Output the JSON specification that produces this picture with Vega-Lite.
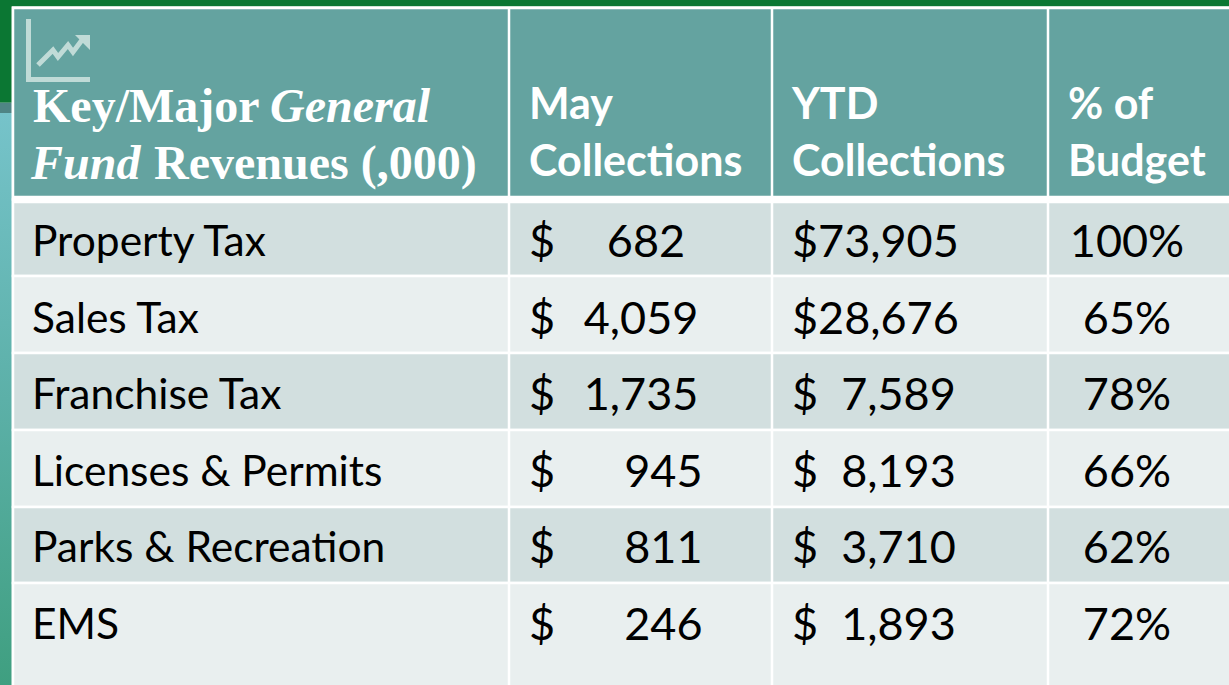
{"$schema":"https://vega.github.io/schema/vega-lite/v6.json","width":1229,"height":685,"padding":0,"autosize":"none","background":"#ffffff","view":{"stroke":null},
"datasets":{
"decor":[{"panel":"top","l":0,"r":100,"t":0,"b":0.9},{"panel":"top","l":0,"r":0.95,"t":0,"b":15},{"panel":"grey","l":0,"r":0.95,"t":15,"b":16.5}],
"sidebar":[{"panel":"side","l":0,"r":0.95,"t":16.5,"b":100}],
"bands":[{"band":"header","start":0,"end":1},{"band":"dark","start":1,"end":2},{"band":"light","start":2,"end":3},{"band":"dark","start":3,"end":4},{"band":"light","start":4,"end":5},{"band":"dark","start":5,"end":6},{"band":"light","start":6,"end":7}],
"cols":[{"col":1},{"col":2},{"col":3}],
"rows":[{"category":"Property Tax","may":"$\u00a0\u00a0\u00a0\u00a0\u2009682","ytd":"$73,905","pct":"100%"},{"category":"Sales Tax","may":"$\u00a0\u00a0\u20094,059","ytd":"$28,676","pct":"65%"},{"category":"Franchise Tax","may":"$\u00a0\u00a0\u20091,735","ytd":"$\u00a0\u00a07,589","pct":"78%"},{"category":"Licenses & Permits","may":"$\u00a0\u00a0\u00a0\u00a0\u00a0\u00a0945","ytd":"$\u00a0\u00a08,193","pct":"66%"},{"category":"Parks & Recreation","may":"$\u00a0\u00a0\u00a0\u00a0\u00a0\u00a0811","ytd":"$\u00a0\u00a03,710","pct":"62%"},{"category":"EMS","may":"$\u00a0\u00a0\u00a0\u00a0\u00a0\u00a0246","ytd":"$\u00a0\u00a01,893","pct":"72%"}],
"headers":[{"col":1,"line":"a","text":"May"},{"col":1,"line":"b","text":"Collections"},{"col":2,"line":"a","text":"YTD"},{"col":2,"line":"b","text":"Collections"},{"col":3,"line":"a","text":"% of"},{"col":3,"line":"b","text":"Budget"}],
"icon":[{"part":"axis","o":0,"x":0.5,"y":0},{"part":"axis","o":1,"x":0.5,"y":60.5},{"part":"axis","o":2,"x":62,"y":60.5},{"part":"trend","o":0,"x":10,"y":46},{"part":"trend","o":1,"x":25,"y":31},{"part":"trend","o":2,"x":30,"y":38},{"part":"trend","o":3,"x":40,"y":26},{"part":"trend","o":4,"x":45,"y":33},{"part":"trend","o":5,"x":54,"y":21}],
"arrow":[{"x":47,"top":16,"bottom":16},{"x":62,"top":16,"bottom":31}]
},
"resolve":{"scale":{"x":"independent","y":"independent","color":"independent"}},
"layer":[
{"data":{"name":"decor"},"mark":{"type":"rect"},"encoding":{
"x":{"field":"l","type":"quantitative","axis":null,"scale":{"domain":[0,100],"range":[0,1229]}},"x2":{"field":"r"},
"y":{"field":"t","type":"quantitative","axis":null,"scale":{"domain":[0,100],"range":[0,685]}},"y2":{"field":"b"},
"color":{"field":"panel","type":"nominal","legend":null,"scale":{"domain":["top","grey"],"range":["#0b7733","#4f8585"]}}}},
{"data":{"name":"sidebar"},"mark":{"type":"rect","color":{"x1":0,"y1":0,"x2":0,"y2":1,"gradient":"linear","stops":[{"offset":0,"color":"#76c3ca"},{"offset":0.5,"color":"#5cb0a8"},{"offset":1,"color":"#3f9f80"}]}},"encoding":{
"x":{"field":"l","type":"quantitative","axis":null,"scale":{"domain":[0,100],"range":[0,1229]}},"x2":{"field":"r"},
"y":{"field":"t","type":"quantitative","axis":null,"scale":{"domain":[0,100],"range":[0,685]}},"y2":{"field":"b"}}},
{"data":{"name":"bands"},"mark":{"type":"rect","stroke":"#ffffff","strokeWidth":2.5},"encoding":{
"x":{"datum":0,"type":"quantitative","axis":null,"scale":{"domain":[0,1,2,3,4],"range":[13,509,772,1048,1235]}},"x2":{"datum":4},
"y":{"field":"start","type":"quantitative","axis":null,"scale":{"domain":[0,1,2,3,4,5,6,7],"range":[8,199.5,276,353,430,507,583,692]}},"y2":{"field":"end"},
"color":{"field":"band","type":"nominal","legend":null,"scale":{"domain":["header","dark","light"],"range":["#64a3a0","#d2dfdf","#e9efef"]}}}},
{"data":{"values":[{"line":"header rule"}]},"mark":{"type":"rule","color":"#ffffff","strokeWidth":7.5},"encoding":{
"x":{"datum":0,"type":"quantitative","axis":null,"scale":{"domain":[0,1,2,3,4],"range":[13,509,772,1048,1235]}},"x2":{"datum":4},
"y":{"datum":1,"type":"quantitative","axis":null,"scale":{"domain":[0,1,2,3,4,5,6,7],"range":[8,199.5,276,353,430,507,583,692]}}}},
{"data":{"name":"cols"},"mark":{"type":"rule","color":"#ffffff","strokeWidth":2.5},"encoding":{
"x":{"field":"col","type":"quantitative","axis":null,"scale":{"domain":[0,1,2,3,4],"range":[13,509,772,1048,1235]}},
"y":{"datum":0,"type":"quantitative","axis":null,"scale":{"domain":[0,1,2,3,4,5,6,7],"range":[8,199.5,276,353,430,507,583,692]}},"y2":{"datum":7}}},
{"data":{"name":"icon"},"mark":{"type":"line","color":"#c0dbd7","strokeWidth":5,"strokeJoin":"miter","clip":false},"encoding":{
"x":{"field":"x","type":"quantitative","axis":null,"scale":{"domain":[0,64],"range":[28,92]}},
"y":{"field":"y","type":"quantitative","axis":null,"scale":{"domain":[0,64],"range":[19,83]}},
"detail":{"field":"part"},"order":{"field":"o"}}},
{"data":{"name":"arrow"},"mark":{"type":"area","color":"#c0dbd7","opacity":1},"encoding":{
"x":{"field":"x","type":"quantitative","axis":null,"scale":{"domain":[0,64],"range":[28,92]}},
"y":{"field":"top","type":"quantitative","axis":null,"scale":{"domain":[0,64],"range":[19,83]}},
"y2":{"field":"bottom"}}},
{"data":{"values":[{"line":"a","text":"Key/Major"}]},"mark":{"type":"text","align":"left","baseline":"middle","dx":20,"font":"Liberation Serif","fontWeight":"bold","fontSize":48,"color":"#ffffff"},"encoding":{
"x":{"datum":0,"type":"quantitative","axis":null,"scale":{"domain":[0,1,2,3,4],"range":[13,509,772,1048,1235]}},
"y":{"field":"line","type":"ordinal","axis":null,"scale":{"type":"point","padding":0,"domain":["a","b"],"range":[108,165]}},"text":{"field":"text"}}},
{"data":{"values":[{"line":"a","text":"General"}]},"mark":{"type":"text","align":"left","baseline":"middle","dx":257,"font":"Liberation Serif","fontWeight":"bold","fontStyle":"italic","fontSize":48,"color":"#ffffff"},"encoding":{
"x":{"datum":0,"type":"quantitative","axis":null,"scale":{"domain":[0,1,2,3,4],"range":[13,509,772,1048,1235]}},
"y":{"field":"line","type":"ordinal","axis":null,"scale":{"type":"point","padding":0,"domain":["a","b"],"range":[108,165]}},"text":{"field":"text"}}},
{"data":{"values":[{"line":"b","text":"Fund"}]},"mark":{"type":"text","align":"left","baseline":"middle","dx":18,"font":"Liberation Serif","fontWeight":"bold","fontStyle":"italic","fontSize":48,"color":"#ffffff"},"encoding":{
"x":{"datum":0,"type":"quantitative","axis":null,"scale":{"domain":[0,1,2,3,4],"range":[13,509,772,1048,1235]}},
"y":{"field":"line","type":"ordinal","axis":null,"scale":{"type":"point","padding":0,"domain":["a","b"],"range":[108,165]}},"text":{"field":"text"}}},
{"data":{"values":[{"line":"b","text":"Revenues (,000)"}]},"mark":{"type":"text","align":"left","baseline":"middle","dx":141,"font":"Liberation Serif","fontWeight":"bold","fontSize":48,"color":"#ffffff"},"encoding":{
"x":{"datum":0,"type":"quantitative","axis":null,"scale":{"domain":[0,1,2,3,4],"range":[13,509,772,1048,1235]}},
"y":{"field":"line","type":"ordinal","axis":null,"scale":{"type":"point","padding":0,"domain":["a","b"],"range":[108,165]}},"text":{"field":"text"}}},
{"data":{"name":"headers"},"mark":{"type":"text","align":"left","baseline":"middle","dx":20,"font":"Lato","fontWeight":"bold","fontSize":43,"color":"#ffffff"},"encoding":{
"x":{"field":"col","type":"quantitative","axis":null,"scale":{"domain":[0,1,2,3,4],"range":[13,509,772,1048,1235]}},
"y":{"field":"line","type":"ordinal","axis":null,"scale":{"type":"point","padding":0,"domain":["a","b"],"range":[106,163]}},"text":{"field":"text"}}},
{"data":{"name":"rows"},"mark":{"type":"text","align":"left","baseline":"middle","dx":19,"font":"Lato","fontSize":42.5,"color":"#000000"},"encoding":{
"x":{"datum":0,"type":"quantitative","axis":null,"scale":{"domain":[0,1,2,3,4],"range":[13,509,772,1048,1235]}},
"y":{"field":"category","type":"ordinal","sort":null,"axis":null,"scale":{"type":"point","padding":0,"range":[243,626]}},"text":{"field":"category"}}},
{"data":{"name":"rows"},"mark":{"type":"text","align":"left","baseline":"middle","dx":20,"font":"Lato","fontSize":45,"color":"#000000"},"encoding":{
"x":{"datum":1,"type":"quantitative","axis":null,"scale":{"domain":[0,1,2,3,4],"range":[13,509,772,1048,1235]}},
"y":{"field":"category","type":"ordinal","sort":null,"axis":null,"scale":{"type":"point","padding":0,"range":[243,626]}},"text":{"field":"may"}}},
{"data":{"name":"rows"},"mark":{"type":"text","align":"left","baseline":"middle","dx":20,"font":"Lato","fontSize":45,"color":"#000000"},"encoding":{
"x":{"datum":2,"type":"quantitative","axis":null,"scale":{"domain":[0,1,2,3,4],"range":[13,509,772,1048,1235]}},
"y":{"field":"category","type":"ordinal","sort":null,"axis":null,"scale":{"type":"point","padding":0,"range":[243,626]}},"text":{"field":"ytd"}}},
{"data":{"name":"rows"},"mark":{"type":"text","align":"center","baseline":"middle","dx":79,"font":"Lato","fontSize":45,"color":"#000000"},"encoding":{
"x":{"datum":3,"type":"quantitative","axis":null,"scale":{"domain":[0,1,2,3,4],"range":[13,509,772,1048,1235]}},
"y":{"field":"category","type":"ordinal","sort":null,"axis":null,"scale":{"type":"point","padding":0,"range":[243,626]}},"text":{"field":"pct"}}}
]}
